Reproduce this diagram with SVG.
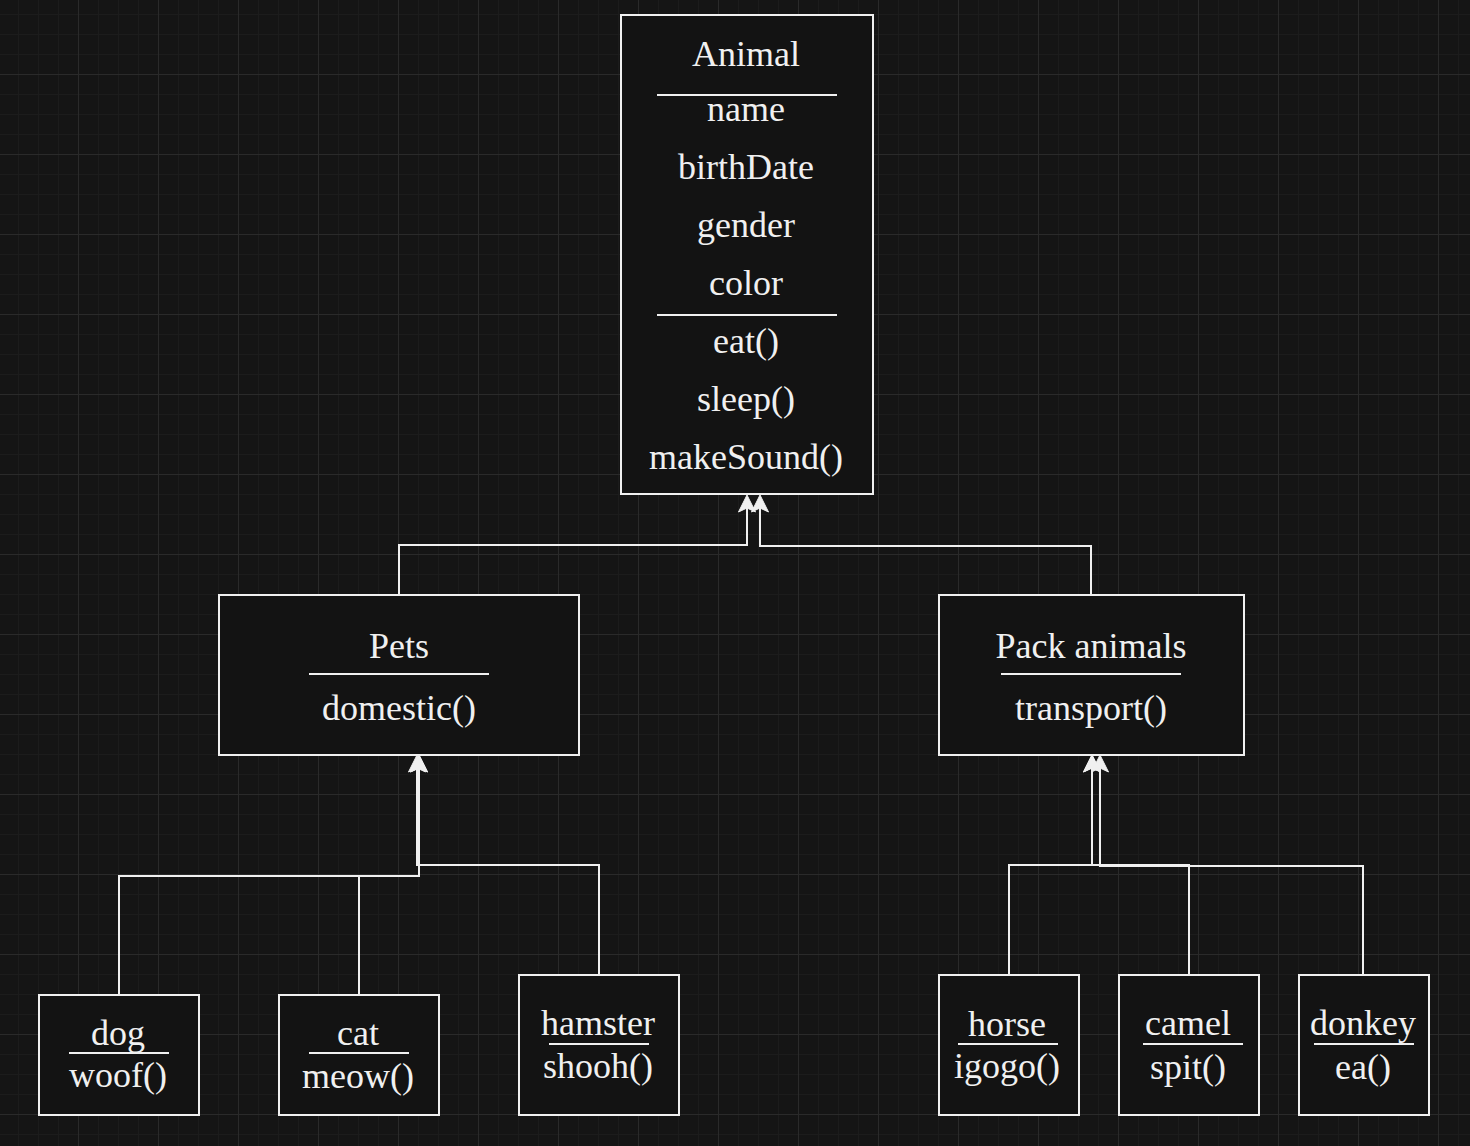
<svg xmlns="http://www.w3.org/2000/svg" width="1470" height="1146" viewBox="0 0 1470 1146">
<defs>
<pattern id="grid" patternUnits="userSpaceOnUse" x="-2" y="-6" width="80" height="80">
<rect x="0" y="0" width="80" height="80" fill="#151515"/>
<rect x="20" y="0" width="1" height="80" fill="#1c1c1c"/>
<rect x="40" y="0" width="1" height="80" fill="#1c1c1c"/>
<rect x="60" y="0" width="1" height="80" fill="#1c1c1c"/>
<rect x="0" y="20" width="80" height="1" fill="#1c1c1c"/>
<rect x="0" y="40" width="80" height="1" fill="#1c1c1c"/>
<rect x="0" y="60" width="80" height="1" fill="#1c1c1c"/>
<rect x="0" y="0" width="1" height="80" fill="#2a2a2a"/>
<rect x="0" y="0" width="80" height="1" fill="#2a2a2a"/>
</pattern>
<marker id="arr" markerUnits="userSpaceOnUse" viewBox="-19 -10 22 20" markerWidth="22" markerHeight="20" refX="-2" refY="0" orient="auto">
<path d="M0,0 L-17,-8.5 L-13,0 L-17,8.5 Z" fill="#f0f0f0" stroke="#f0f0f0" stroke-width="1" stroke-linejoin="round"/>
</marker>
<style>
.box{fill:#131313;stroke:#f0f0f0;stroke-width:2}
.sep{stroke:#f0f0f0;stroke-width:2}
.t{font-family:"Liberation Serif","Times New Roman",serif;font-size:36px;fill:#f0f0f0;text-anchor:middle}
.c{fill:none;stroke:#f0f0f0;stroke-width:2;marker-end:url(#arr)}
</style>
</defs>
<rect x="0" y="0" width="1470" height="1146" fill="url(#grid)"/>

<g id="connectors">
<path class="c" d="M399,595 V545 H747 V497"/>
<path class="c" d="M1091,595 V546 H760 V497"/>
<path class="c" d="M119,995 V876 H419 V757"/>
<path class="c" d="M359,995 V876 H419 V757"/>
<path class="c" d="M599,975 V865 H417 V757"/>
<path class="c" d="M1009,975 V865 H1092 V757"/>
<path class="c" d="M1189,975 V865 H1092 V757"/>
<path class="c" d="M1363,975 V866 H1100 V757"/>
</g>

<g id="animal">
<rect class="box" x="621" y="15" width="252" height="479"/>
<text class="t" x="746" y="66">Animal</text>
<line class="sep" x1="657" y1="95" x2="837" y2="95"/>
<text class="t" x="746" y="121">name</text>
<text class="t" x="746" y="179">birthDate</text>
<text class="t" x="746" y="237">gender</text>
<text class="t" x="746" y="295">color</text>
<line class="sep" x1="657" y1="315" x2="837" y2="315"/>
<text class="t" x="746" y="353">eat()</text>
<text class="t" x="746" y="411">sleep()</text>
<text class="t" x="746" y="469">makeSound()</text>
</g>

<g id="pets">
<rect class="box" x="219" y="595" width="360" height="160"/>
<text class="t" x="399" y="658">Pets</text>
<line class="sep" x1="309" y1="674" x2="489" y2="674"/>
<text class="t" x="399" y="720">domestic()</text>
</g>

<g id="pack">
<rect class="box" x="939" y="595" width="305" height="160"/>
<text class="t" x="1091" y="658">Pack animals</text>
<line class="sep" x1="1001" y1="674" x2="1181" y2="674"/>
<text class="t" x="1091" y="720">transport()</text>
</g>

<g id="dog">
<rect class="box" x="39" y="995" width="160" height="120"/>
<text class="t" x="118" y="1045">dog</text>
<line class="sep" x1="69" y1="1053" x2="169" y2="1053"/>
<text class="t" x="118" y="1087">woof()</text>
</g>

<g id="cat">
<rect class="box" x="279" y="995" width="160" height="120"/>
<text class="t" x="358" y="1045">cat</text>
<line class="sep" x1="309" y1="1053" x2="409" y2="1053"/>
<text class="t" x="358" y="1088">meow()</text>
</g>

<g id="hamster">
<rect class="box" x="519" y="975" width="160" height="140"/>
<text class="t" x="598" y="1035">hamster</text>
<line class="sep" x1="549" y1="1044" x2="649" y2="1044"/>
<text class="t" x="598" y="1078">shooh()</text>
</g>

<g id="horse">
<rect class="box" x="939" y="975" width="140" height="140"/>
<text class="t" x="1007" y="1036">horse</text>
<line class="sep" x1="958" y1="1044" x2="1058" y2="1044"/>
<text class="t" x="1007" y="1078">igogo()</text>
</g>

<g id="camel">
<rect class="box" x="1119" y="975" width="140" height="140"/>
<text class="t" x="1188" y="1035">camel</text>
<line class="sep" x1="1143" y1="1044" x2="1243" y2="1044"/>
<text class="t" x="1188" y="1079">spit()</text>
</g>

<g id="donkey">
<rect class="box" x="1299" y="975" width="130" height="140"/>
<text class="t" x="1363" y="1035">donkey</text>
<line class="sep" x1="1314" y1="1044" x2="1414" y2="1044"/>
<text class="t" x="1363" y="1079">ea()</text>
</g>
</svg>
